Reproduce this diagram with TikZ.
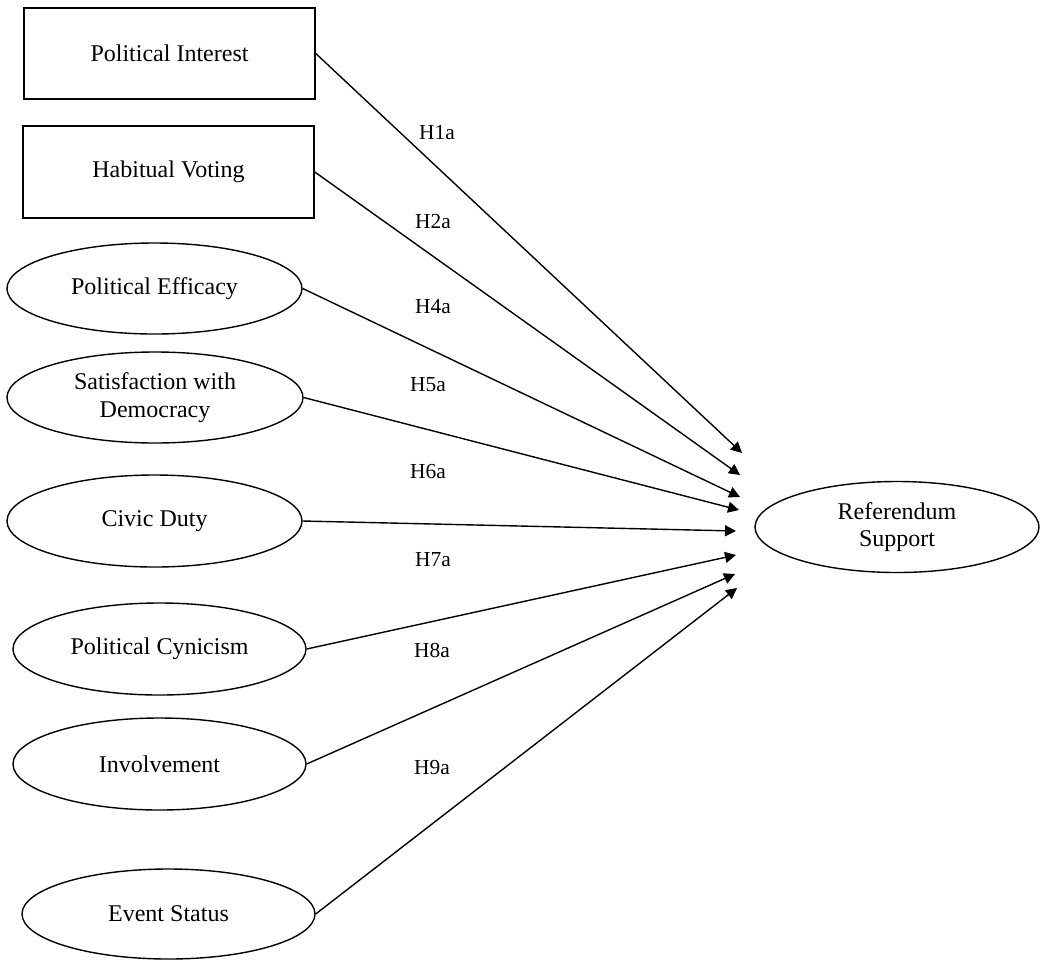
\documentclass[tikz,border=0pt]{standalone}
\usepackage{fontspec}
\setmainfont{Liberation Serif}
\usetikzlibrary{shapes.geometric,arrows.meta}
\begin{document}
\begin{tikzpicture}[x=0.5pt,y=-0.5pt,
  box/.style={draw,line width=0.8pt,rectangle,inner sep=0pt,font=\fontsize{12}{13.8}\selectfont,align=center},
  oval/.style={draw,line width=0.7pt,ellipse,inner sep=0pt,font=\fontsize{12}{13.8}\selectfont,align=center},
  hyp/.style={font=\fontsize{10.7}{12}\selectfont,inner sep=0pt},
  link/.style={line width=0.7pt,-{Triangle[length=5.5pt,width=5.5pt]}}]
\useasboundingbox (0,0) rectangle (1040,960);
\node[box,minimum width=145.5pt,minimum height=45.5pt] (pi) at (169.5,53.5) {Political Interest};
\node[box,minimum width=145.5pt,minimum height=46pt] (hv) at (168.5,172) {Habitual Voting};
\node[oval,minimum width=147.5pt,minimum height=45.5pt] (pe) at (154.5,288.5) {Political Efficacy};
\node[oval,minimum width=148pt,minimum height=45.5pt] (sd) at (155,397.5) {Satisfaction with\\Democracy};
\node[oval,minimum width=147.5pt,minimum height=46pt] (cd) at (154.5,521) {Civic Duty};
\node[oval,minimum width=146.5pt,minimum height=46pt] (pc) at (159.5,649) {Political Cynicism};
\node[oval,minimum width=146.5pt,minimum height=46pt] (inv) at (159.5,764) {Involvement};
\node[oval,minimum width=146.5pt,minimum height=45pt] (es) at (168.5,914) {Event Status};
\node[oval,minimum width=142pt,minimum height=45.5pt] (rs) at (897,527) {Referendum\\Support};
\coordinate (t1) at (742,453);
\coordinate (t2) at (740,475);
\coordinate (t3) at (740,497);
\coordinate (t4) at (739,510);
\coordinate (t5) at (736,531);
\coordinate (t6) at (736,555);
\coordinate (t7) at (735,574);
\coordinate (t8) at (737,588);
\draw[link] (pi.east) -- (t1);
\draw[link] (hv.east) -- (t2);
\draw[link] (pe.east) -- (t3);
\draw[link] (sd.east) -- (t4);
\draw[link] (cd.east) -- (t5);
\draw[link] (pc.east) -- (t6);
\draw[link] (inv.east) -- (t7);
\draw[link] (es.east) -- (t8);
\node[hyp] (l1) at (437,133) {H1a};
\node[hyp] (l2) at (433,222) {H2a};
\node[hyp] (l3) at (433,307) {H4a};
\node[hyp] (l4) at (428,385) {H5a};
\node[hyp] (l5) at (428,472) {H6a};
\node[hyp] (l6) at (433,560) {H7a};
\node[hyp] (l7) at (432,650) {H8a};
\node[hyp] (l8) at (432,768) {H9a};
\end{tikzpicture}
\end{document}
